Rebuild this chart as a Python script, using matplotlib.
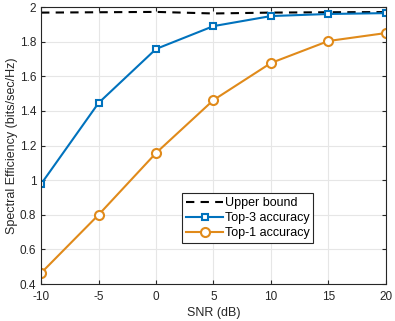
import matplotlib
matplotlib.use("Agg")
import matplotlib.pyplot as plt

plt.rcParams['font.family'] = ['Liberation Sans', 'DejaVu Sans']
plt.rcParams['axes.unicode_minus'] = False

#données
snr = [-10, -5, 0, 5, 10, 15, 20]
upper_bound = [1.968, 1.970, 1.972, 1.963, 1.968, 1.970, 1.971]
top3 = [0.978, 1.446, 1.758, 1.890, 1.948, 1.960, 1.965]
top1 = [0.464, 0.800, 1.157, 1.463, 1.677, 1.804, 1.850]
xticks = [-10, -5, 0, 5, 10, 15, 20]
yticks = [0.4, 0.6, 0.8, 1.0, 1.2, 1.4, 1.6, 1.8, 2.0]
ytick_labels = ['0.4', '0.6', '0.8', '1', '1.2', '1.4', '1.6', '1.8', '2']

blue = '#0072BD'
orange = '#E08A1A'

fig = plt.figure(figsize=(3.95, 3.21), dpi=100)
ax = fig.add_axes([0.104, 0.115, 0.873, 0.863])

ax.plot(snr, upper_bound, '--', color='black', lw=1.5, dashes=(4, 3), label='Upper bound')
ax.plot(snr, top3, '-s', color=blue, lw=1.5, ms=5, mfc='white', mew=1.5, label='Top-3 accuracy')
ax.plot(snr, top1, '-o', color=orange, lw=1.5, ms=6.5, mfc='white', mew=1.5, label='Top-1 accuracy')

ax.set_xlim(-10, 20)
ax.set_ylim(0.4, 2.0)
ax.set_xticks(xticks)
ax.set_xticklabels([str(v) for v in xticks])
ax.set_yticks(yticks)
ax.set_yticklabels(ytick_labels)
ax.grid(True, color='#e6e6e6', lw=0.8)
ax.set_axisbelow(True)
ax.tick_params(direction='in', labelsize=8.5, colors='#262626', length=3,
               top=True, right=True)
ax.tick_params(axis='x', pad=5)
for s in ax.spines.values():
    s.set_color('#262626')
    s.set_linewidth(0.8)

ax.set_xlabel('SNR (dB)', fontsize=9, color='#262626', labelpad=3)
ax.set_ylabel('Spectral Efficiency (bits/sec/Hz)', fontsize=9, color='#262626', labelpad=1)

leg = ax.legend(loc='lower left', bbox_to_anchor=(0.409, 0.148), fontsize=9,
                fancybox=False, edgecolor='#262626', framealpha=1,
                handlelength=3.0, handletextpad=0.1, borderpad=0.3,
                labelspacing=0.25, borderaxespad=0)
leg.get_frame().set_linewidth(0.8)

fig.savefig('out.png', dpi=100)
